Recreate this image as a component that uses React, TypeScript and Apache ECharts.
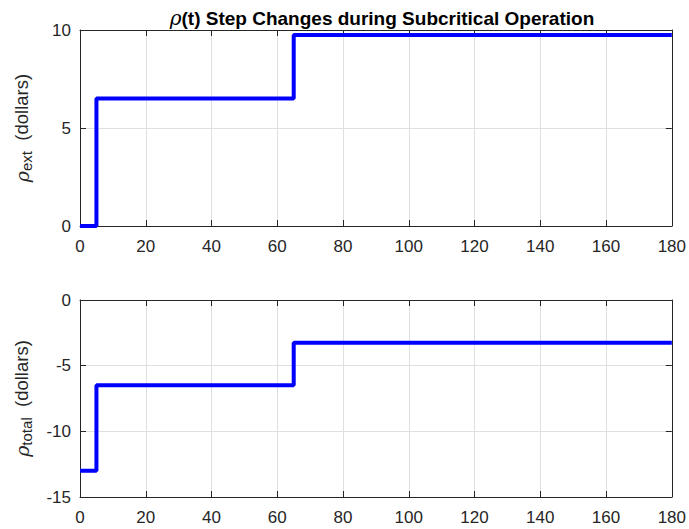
import React, { useEffect, useRef } from "react";
import * as echarts from "echarts";

const stepTimes = [0, 5, 65, 180];
const rhoExt = [0, 6.5, 9.75, 9.75];
const rhoTotal = [-13, -6.5, -3.25, -3.25];

const titleRho = "\u03c1";
const titleRest = "(t) Step Changes during Subcritical Operation";

const FONT = "Liberation Sans, Arial, sans-serif";
const AX = "#262626";

function xAxes(gridIndex: number) {
  const base = {
    gridIndex,
    type: "value" as const,
    min: 0,
    max: 180,
    interval: 20,
    axisLine: { show: true, onZero: false, lineStyle: { color: AX, width: 1 } },
    axisTick: { show: true, inside: true, length: 6, lineStyle: { color: AX } },
  };
  return [
    {
      ...base,
      position: "bottom",
      axisLabel: { color: AX, fontSize: 17, fontFamily: FONT, margin: 12 },
      splitLine: { show: true, lineStyle: { color: "#dfdfdf", width: 1 } },
    },
    {
      ...base,
      position: "top",
      axisLabel: { show: false },
      splitLine: { show: false },
    },
  ];
}

function yAxes(gridIndex: number, min: number, max: number, interval: number, sub: string) {
  const base = {
    gridIndex,
    type: "value" as const,
    min,
    max,
    interval,
    axisLine: { show: true, onZero: false, lineStyle: { color: AX, width: 1 } },
    axisTick: { show: true, inside: true, length: 6, lineStyle: { color: AX } },
  };
  return [
    {
      ...base,
      position: "left",
      axisLabel: { color: AX, fontSize: 17, fontFamily: FONT, margin: 9 },
      splitLine: { show: true, lineStyle: { color: "#dfdfdf", width: 1 } },
      name: `{rho|\u03c1}{sub|${sub}}{n|  (dollars)}`,
      nameLocation: "middle",
      nameGap: 46,
      nameRotate: 90,
      nameTextStyle: {
        color: AX,
        fontFamily: FONT,
        fontSize: 18,
        rich: {
          rho: { fontSize: 19, fontStyle: "italic", fontFamily: "DejaVu Serif, serif", color: AX },
          sub: { fontSize: 15, fontFamily: FONT, color: AX, padding: [10, 0, 0, 0] },
          n: { fontSize: 18.5, fontFamily: FONT, color: AX },
        },
      },
    },
    {
      ...base,
      position: "right",
      axisLabel: { show: false },
      splitLine: { show: false },
    },
  ];
}

export default function App() {
  const ref = useRef<HTMLDivElement>(null);
  useEffect(() => {
    if (!ref.current) return;
    const chart = echarts.init(ref.current, null, { renderer: "svg" });
    const extData = stepTimes.map((t, i) => [t, rhoExt[i]]);
    const totData = stepTimes.map((t, i) => [t, rhoTotal[i]]);
    chart.setOption({
      animation: false,
      backgroundColor: "#ffffff",
      title: {
        text: `{r|${titleRho}}{b|${titleRest}}`,
        left: 377,
        top: 3,
        textAlign: "center",
        textStyle: {
          fontSize: 19,
          fontWeight: "bold",
          fontFamily: FONT,
          color: "#000",
          rich: {
            r: { fontSize: 20, fontStyle: "italic", fontWeight: "normal", fontFamily: "DejaVu Serif, serif", color: "#000" },
            b: { fontSize: 19, fontWeight: "bold", fontFamily: FONT, color: "#000" },
          },
        },
      },
      grid: [
        { left: 80, top: 30, width: 596, height: 196 },
        { left: 80, top: 300, width: 596, height: 197 },
      ],
      xAxis: [...xAxes(0), ...xAxes(1)],
      yAxis: [...yAxes(0, 0, 10, 5, "ext"), ...yAxes(1, -15, 0, 5, "total")],
      series: [
        {
          type: "line",
          xAxisIndex: 0,
          yAxisIndex: 0,
          data: extData,
          step: "end",
          symbol: "none",
          lineStyle: { color: "#0000ff", width: 4 },
          clip: false,
        },
        {
          type: "line",
          xAxisIndex: 2,
          yAxisIndex: 2,
          data: totData,
          step: "end",
          symbol: "none",
          lineStyle: { color: "#0000ff", width: 4 },
          clip: false,
        },
      ],
    });
    return () => chart.dispose();
  }, []);
  return (
    <div
      ref={ref}
      style={{ position: "fixed", left: 0, top: 0, width: 689, height: 529, background: "#fff" }}
    />
  );
}
